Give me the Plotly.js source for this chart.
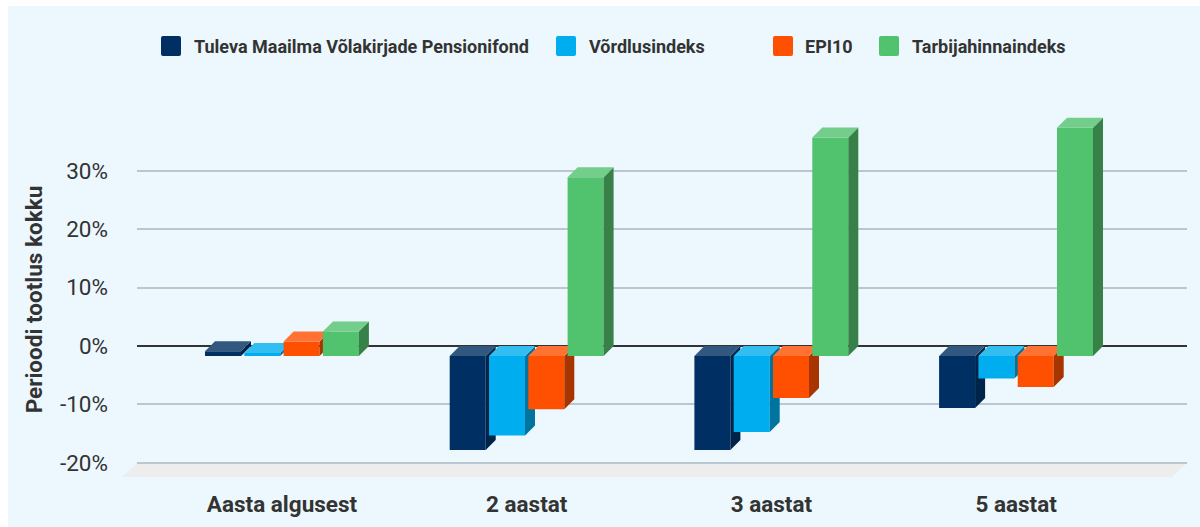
<!DOCTYPE html>
<html>
<head>
<meta charset="utf-8">
<script src="https://cdn.plot.ly/plotly-3.0.1.min.js"></script>
<style>
html,body{margin:0;padding:0;background:#fff;overflow:hidden}
#chart{position:absolute;left:8px;top:6px;width:1192px;height:521px}
</style>
</head>
<body>
<div id="chart"></div>
<script>
// ---- data ----
const categories = ["Aasta algusest", "2 aastat", "3 aastat", "5 aastat"];
const seriesNames = ["Tuleva Maailma Võlakirjade Pensionifond", "Võrdlusindeks", "EPI10", "Tarbijahinnaindeks"];
const tuleva = [0.8, -16.1, -16.1, -8.9];
const vordlus = [0.5, -13.6, -13.0, -3.85];
const epi10 = [2.5, -9.1, -7.2, -5.3];
const tarbija = [4.2, 30.6, 37.4, 39.1];
const yTicks = [-20, -10, 0, 10, 20, 30];
const yTickText = ["-20%", "-10%", "0%", "10%", "20%", "30%"];

// ---- styles ----
const frontColors = ["#002F63", "#00AEEF", "#FF4F00", "#51C26E"];
const topColors = ["#33587F", "#33BEF1", "#FF7233", "#74CE8B"];
const sideColors = ["#00234A", "#00749F", "#A83500", "#378148"];
const bg = "#ECF8FE";
const textColor = "#333333";

// ---- geometry (pixels of the page) ----
const plotL = 137, plotR = 1187, plotT = 100, gridTop = 122, plotB = 477;
const pxPerCat = 244.7, firstCenter = 282, pxPerPct = 5.84, zeroY = 346;
const depthPx = 10, barPx = 36, stepPx = 39.3, groupStartPx = -77;
const xRange = [(plotL - firstCenter) / pxPerCat, (plotR - firstCenter) / pxPerCat];
const yRangeAxis = [(zeroY - plotB) / pxPerPct, (zeroY - gridTop) / pxPerPct];
const yRangeBars = [(zeroY - plotB) / pxPerPct, (zeroY - plotT) / pxPerPct];
const dx = depthPx / pxPerCat, dy = depthPx / pxPerPct, bw = barPx / pxPerCat;
const px = v => (v - plotL) / (plotR - plotL);
const py = v => (plotB - v) / (plotB - plotT);

// ---- traces ----
const allValues = [tuleva, vordlus, epi10, tarbija];
const traces = [{type: "scatter", mode: "lines", x: [0], y: [0], xaxis: "x", yaxis: "y", hoverinfo: "skip", showlegend: false}];
allValues.forEach((vals, s) => {
  const xa = s === 0 ? "x" : "x" + (s + 1), ya = "y" + (s + 2);
  const off = (groupStartPx + stepPx * s) / pxPerCat;
  const sideX = [], sideY = [], topX = [], topY = [];
  vals.forEach((v, c) => {
    const x0 = c + off, x1 = x0 + bw;
    const hi = Math.max(0, v) - dy, lo = Math.min(0, v) - dy;
    sideX.push(x1, x1 + dx, x1 + dx, x1, x1, null);
    sideY.push(hi, hi + dy, lo + dy, lo, hi, null);
    topX.push(x0, x1, x1 + dx, x0 + dx, x0, null);
    topY.push(hi, hi, hi + dy, hi + dy, hi, null);
  });
  const face = (x, y, color) => ({
    type: "scatter", mode: "lines", x, y, fill: "toself", fillcolor: color,
    line: {width: 0, color}, connectgaps: false, hoverinfo: "skip", showlegend: false,
    xaxis: xa, yaxis: ya
  });
  traces.push({
    type: "bar", name: seriesNames[s], x: categories.map((_, i) => i), y: vals,
    base: vals.map(() => -dy), width: bw, offset: off,
    marker: {color: frontColors[s], line: {width: 0}}, showlegend: false,
    xaxis: xa, yaxis: ya
  });
  traces.push(face(sideX, sideY, sideColors[s]));
  traces.push(face(topX, topY, topColors[s]));
});

// ---- legend drawn as rounded swatches and text ----
const swatchX = [161, 556, 773, 879], labelX = [193, 588, 804, 911];
const swatchTop = 36, swatchSize = 20, r = 2;
const shapes = [{
  type: "path", xref: "paper", yref: "paper", layer: "below",
  path: `M ${px(plotL)} ${py(463)} L ${px(plotR)} ${py(463)} L ${px(plotR - 15)} ${py(plotB)} L ${px(plotL - 15)} ${py(plotB)} Z`,
  fillcolor: "#EDEDED", line: {width: 0}
}];
const annotations = [];
seriesNames.forEach((n, i) => {
  const a = swatchX[i], b = a + swatchSize, t = swatchTop, u = t + swatchSize;
  shapes.push({
    type: "path", xref: "paper", yref: "paper", fillcolor: frontColors[i], line: {width: 0},
    path: `M ${px(a + r)} ${py(t)} L ${px(b - r)} ${py(t)} Q ${px(b)} ${py(t)} ${px(b)} ${py(t + r)} ` +
          `L ${px(b)} ${py(u - r)} Q ${px(b)} ${py(u)} ${px(b - r)} ${py(u)} L ${px(a + r)} ${py(u)} ` +
          `Q ${px(a)} ${py(u)} ${px(a)} ${py(u - r)} L ${px(a)} ${py(t + r)} Q ${px(a)} ${py(t)} ${px(a + r)} ${py(t)} Z`
  });
  annotations.push({
    xref: "paper", yref: "paper", x: px(labelX[i]), y: py(46), xanchor: "left", yanchor: "middle",
    text: "<b>" + n + "</b>", showarrow: false, xshift: 0,
    font: {family: "Roboto, sans-serif", size: 18, color: textColor}, borderpad: 0
  });
});

// ---- layout ----
const layout = {
  width: 1192, height: 521,
  margin: {l: plotL - 8, r: 1200 - plotR, t: plotT - 6, b: 527 - plotB, pad: 0},
  paper_bgcolor: bg, plot_bgcolor: "rgba(0,0,0,0)",
  barmode: "overlay", showlegend: false, font: {family: "Roboto, sans-serif", color: textColor},
  xaxis: {
    type: "linear", range: xRange, tickmode: "array", tickvals: categories.map((_, i) => i),
    ticktext: categories.map(c => "<b>" + c + "</b>"), showgrid: false, zeroline: false, showline: false,
    ticks: "", ticklabelstandoff: 11, tickfont: {family: "Roboto, sans-serif", size: 22.5, color: textColor}
  },
  yaxis: {
    type: "linear", range: yRangeAxis, domain: [0, py(gridTop)], tickmode: "array", tickvals: yTicks, ticktext: yTickText,
    showgrid: true, gridcolor: "#BAC6D0", gridwidth: 2, zeroline: true, zerolinecolor: "#333333", zerolinewidth: 2,
    showline: false, ticks: "", ticklabelstandoff: 28,
    tickfont: {family: "Roboto, sans-serif", size: 22.5, color: textColor},
    title: {text: "<b>Perioodi tootlus kokku</b>", font: {family: "Roboto, sans-serif", size: 22.5, color: textColor}, standoff: 11}
  },
  yaxis2: {type: "linear", range: yRangeBars, domain: [0, 1], anchor: "x", visible: false, showgrid: false, zeroline: false},
  shapes, annotations
};
[2, 3, 4].forEach(i => {
  layout["xaxis" + i] = {type: "linear", range: xRange, overlaying: "x", visible: false, showgrid: false, zeroline: false};
});
[3, 4, 5].forEach(i => {
  layout["yaxis" + i] = {type: "linear", range: yRangeBars, overlaying: "y2", visible: false, showgrid: false, zeroline: false};
});

Plotly.newPlot("chart", traces, layout, {displayModeBar: false, staticPlot: true});
</script>
</body>
</html>
